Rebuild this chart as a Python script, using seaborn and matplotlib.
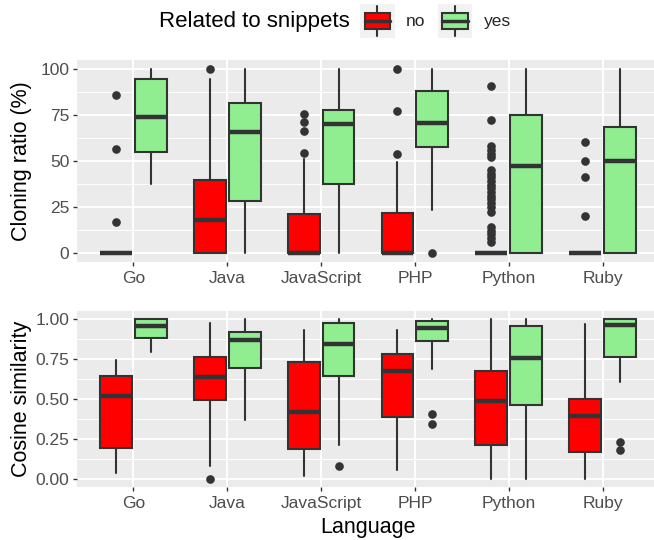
import numpy as np
import matplotlib
matplotlib.use("Agg")
import matplotlib.pyplot as plt
import seaborn as sns
from matplotlib.legend_handler import HandlerBase
from matplotlib.patches import Rectangle, Patch
from matplotlib.lines import Line2D
from matplotlib.ticker import MultipleLocator

# ---- data (box summaries) ----
languages = ["Go", "Java", "JavaScript", "PHP", "Python", "Ruby"]
groups = ["no", "yes"]
colors = {"no": "#FF0000", "yes": "#90EE90"}

# cloning ratio (%): [lower whisker, q1, median, q3, upper whisker]
clone_no = [
    [0, 0, 0, 0, 0],
    [0, 0, 18, 39.5, 94.5],
    [0, 0, 0, 20.8, 51],
    [0, 0, 0, 21.3, 49.5],
    [0, 0, 0, 0, 0],
    [0, 0, 0, 0, 0],
]
clone_no_out = [
    [86, 56.5, 16.5],
    [100],
    [75.5, 71, 66.5, 54.5],
    [100, 77, 54],
    [91, 72.5, 58, 56, 54, 52, 45, 43, 41, 39, 37, 35, 33, 31, 29, 27,
     25, 22, 14, 12, 10, 8, 6],
    [60.5, 50, 41, 20],
]
clone_yes = [
    [37.5, 55, 74, 94.5, 100],
    [0, 28, 65.5, 81.8, 100],
    [0, 37.5, 70.3, 78, 100],
    [23.3, 57.4, 70.5, 88.3, 100],
    [0, 0, 47.2, 75, 100],
    [0, 0, 50, 68.7, 100],
]
clone_yes_out = [[], [], [], [0], [], []]

# cosine similarity
cos_no = [
    [0.033, 0.195, 0.518, 0.645, 0.743],
    [0.077, 0.49, 0.637, 0.765, 0.977],
    [0.015, 0.188, 0.42, 0.728, 0.931],
    [0.052, 0.389, 0.673, 0.78, 0.929],
    [0.0, 0.209, 0.487, 0.676, 1.0],
    [0.0, 0.165, 0.395, 0.496, 0.971],
]
cos_no_out = [[], [0.0], [], [], [], []]
cos_yes = [
    [0.791, 0.881, 0.958, 0.998, 1.0],
    [0.37, 0.694, 0.866, 0.917, 1.0],
    [0.213, 0.644, 0.845, 0.973, 1.0],
    [0.686, 0.86, 0.943, 0.987, 1.0],
    [0.0, 0.464, 0.757, 0.956, 1.0],
    [0.606, 0.76, 0.962, 0.998, 1.0],
]
cos_yes_out = [[], [], [0.082], [0.408, 0.343], [], [0.232, 0.182]]

EDGE = "#333333"
FONT = ["Liberation Sans", "DejaVu Sans"]

sns.set_theme(style="darkgrid", rc={
    "axes.facecolor": "#EBEBEB",
    "grid.color": "white",
})
plt.rcParams["font.family"] = FONT


def to_stats(summary, outliers):
    stats = []
    for (lo, q1, med, q3, hi), out in zip(summary, outliers):
        stats.append(dict(whislo=lo, q1=q1, med=med, q3=q3, whishi=hi,
                          fliers=np.array(out, dtype=float)))
    return stats


def draw_panel(ax, by_group, ylabel, major, ylim, fmt):
    x = np.arange(len(languages))
    offset = 0.186
    for k, grp in enumerate(groups):
        summary, outliers = by_group[grp]
        ax.bxp(to_stats(summary, outliers),
               positions=x + (k - 0.5) * 2 * offset, widths=0.34,
               patch_artist=True, showcaps=False, manage_ticks=False,
               boxprops=dict(facecolor=colors[grp], edgecolor=EDGE, linewidth=1.5),
               medianprops=dict(color=EDGE, linewidth=3.2, solid_capstyle="butt"),
               whiskerprops=dict(color=EDGE, linewidth=1.5),
               flierprops=dict(marker="o", markerfacecolor=EDGE,
                               markeredgecolor=EDGE, markersize=5.2))
    ax.set_xlim(-0.6, len(languages) - 0.4)
    ax.set_ylim(*ylim)
    ax.set_xticks(x)
    ax.set_xticklabels(languages)
    ax.yaxis.set_major_locator(MultipleLocator(major))
    ax.yaxis.set_minor_locator(MultipleLocator(major / 2))
    ax.yaxis.set_major_formatter(fmt)
    ax.grid(True, which="major", color="white", linewidth=1.4)
    ax.grid(True, which="minor", axis="y", color="white", linewidth=0.7)
    ax.set_axisbelow(True)
    for s in ax.spines.values():
        s.set_visible(False)
    ax.tick_params(axis="both", which="major", length=3, width=1.0, color=EDGE,
                   labelsize=12.5, labelcolor="#4D4D4D", pad=2.5,
                   left=True, bottom=True)
    ax.tick_params(axis="x", which="major", pad=4)
    ax.tick_params(axis="both", which="minor", length=0)
    ax.set_ylabel(ylabel, fontsize=15.5, color="black")
    ax.yaxis.set_label_coords(-0.077, 0.5)


class BoxKeyHandler(HandlerBase):
    def create_artists(self, legend, orig_handle, xdescent, ydescent,
                       width, height, fontsize, trans):
        x0, y0 = -xdescent, -ydescent
        bg = Rectangle((x0, y0), width, height, facecolor="#F2F2F2",
                       edgecolor="none", transform=trans)
        box = Rectangle((x0 + width * 0.13, y0 + height * 0.26), width * 0.74,
                        height * 0.48, facecolor=orig_handle.get_facecolor(),
                        edgecolor=EDGE, linewidth=1.5, transform=trans)
        xm = x0 + width / 2
        med = Line2D([x0 + width * 0.13, x0 + width * 0.87],
                     [y0 + height / 2] * 2, color=EDGE, lw=2.5, transform=trans)
        w1 = Line2D([xm, xm], [y0 + height * 0.08, y0 + height * 0.26],
                    color=EDGE, lw=1.5, transform=trans)
        w2 = Line2D([xm, xm], [y0 + height * 0.74, y0 + height * 0.92],
                    color=EDGE, lw=1.5, transform=trans)
        return [bg, box, med, w1, w2]


fig = plt.figure(figsize=(6.54, 5.40), dpi=100)
ax1 = fig.add_axes([77 / 654, 1 - 261.7 / 540, 582 / 654, 201.7 / 540])
ax2 = fig.add_axes([77 / 654, 1 - 486.7 / 540, 582 / 654, 175.7 / 540])

draw_panel(ax1, {"no": (clone_no, clone_no_out), "yes": (clone_yes, clone_yes_out)},
           "Cloning ratio (%)", 25, (-5, 105), "{x:.0f}")
draw_panel(ax2, {"no": (cos_no, cos_no_out), "yes": (cos_yes, cos_yes_out)},
           "Cosine similarity", 0.25, (-0.05, 1.05), "{x:.2f}")
ax2.set_xlabel("Language", fontsize=15.5, color="black", labelpad=4)

# legend on top, title on the left like ggplot
fig.text(159 / 654, 1 - 21 / 540, "Related to snippets", fontsize=16,
         ha="left", va="center", color="black")
handles = [Patch(facecolor=colors[g]) for g in groups]
fig.legend(handles, groups, handler_map={Patch: BoxKeyHandler()},
           loc="center left", bbox_to_anchor=(360 / 654, 1 - 21 / 540),
           ncol=2, frameon=False, fontsize=12.5, handlelength=2.0,
           handleheight=2.72, handletextpad=0.65, columnspacing=0.7,
           borderpad=0, borderaxespad=0)

fig.savefig("out.png", dpi=100)
